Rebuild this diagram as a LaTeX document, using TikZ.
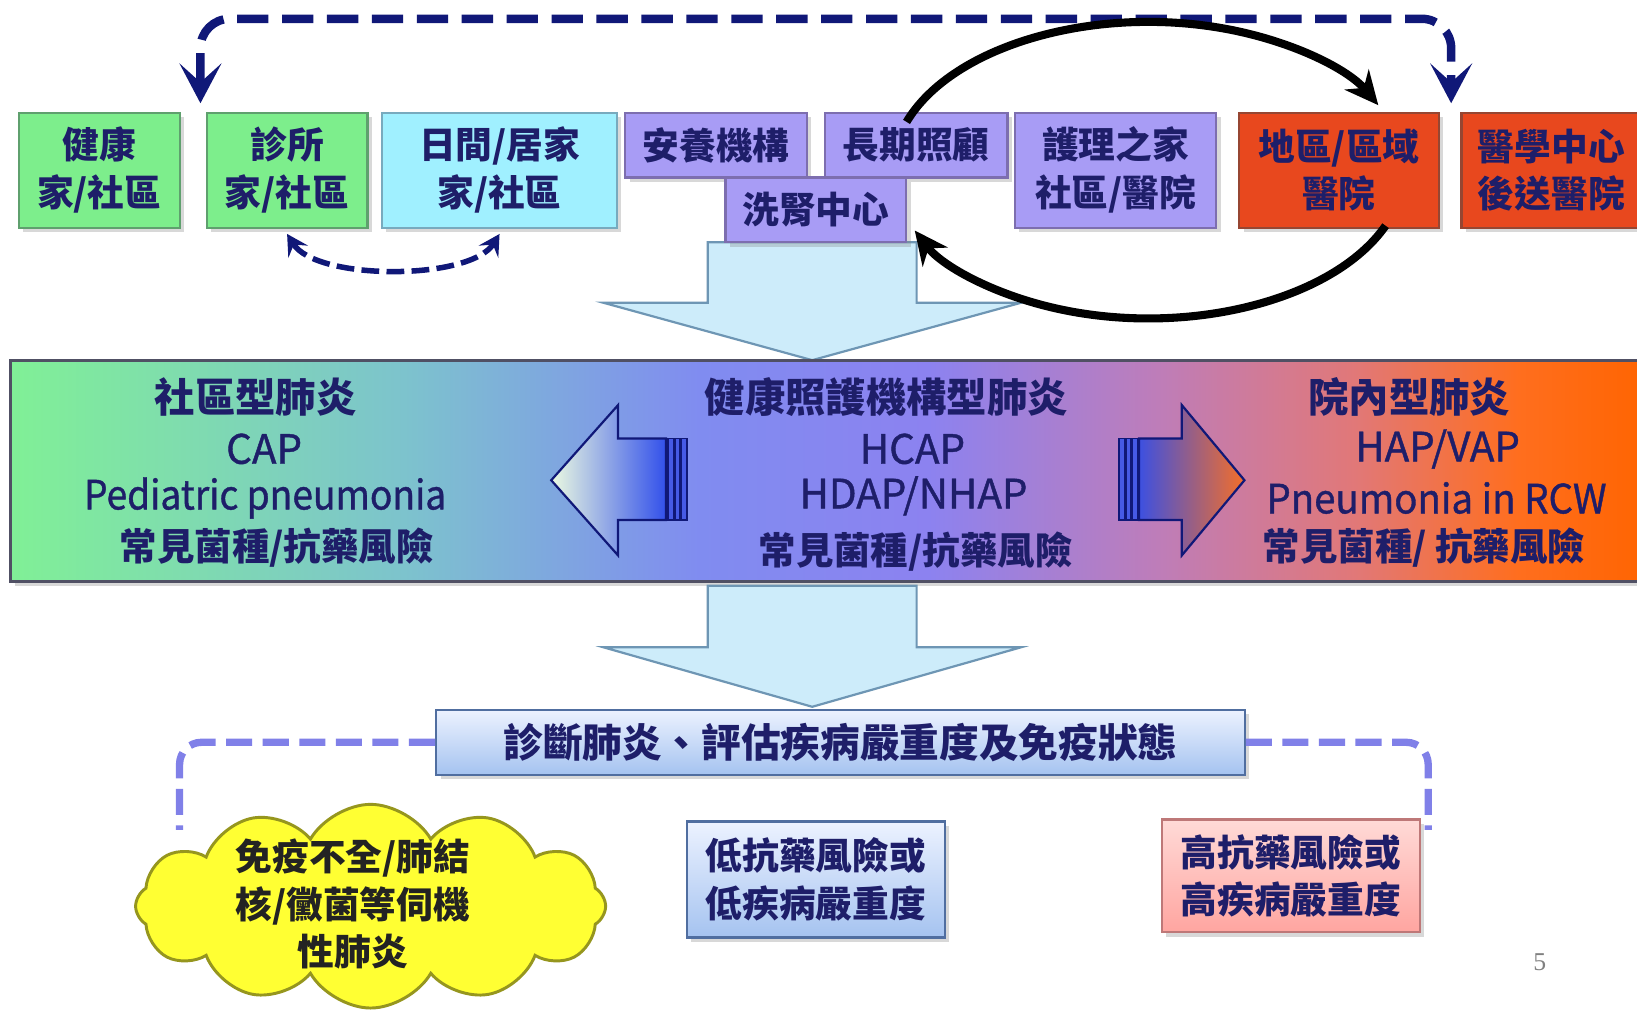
\documentclass[tikz,border=0pt]{standalone}
\usepackage{fontspec}
\setmainfont{Noto Sans CJK TC}
\newfontfamily\latmed{Noto Sans CJK TC}[FakeBold=1]
\newfontfamily\pgserif{Liberation Serif}
\usetikzlibrary{arrows.meta,shapes.symbols,shadows,calc}
\definecolor{navy}{RGB}{16,24,120}
\definecolor{txt}{RGB}{30,30,105}
\definecolor{gfill}{RGB}{125,238,140}
\definecolor{gline}{RGB}{95,160,110}
\definecolor{cfill}{RGB}{160,240,255}
\definecolor{cline}{RGB}{120,170,190}
\definecolor{pfill}{RGB}{168,156,245}
\definecolor{pline}{RGB}{125,110,175}
\definecolor{rfill}{RGB}{232,72,30}
\definecolor{rline}{RGB}{150,70,50}
\definecolor{afill}{RGB}{205,236,250}
\definecolor{aline}{RGB}{110,150,180}
\definecolor{lav}{RGB}{128,128,232}
\definecolor{bandline}{RGB}{80,80,100}
\definecolor{b0}{RGB}{128,240,150}
\definecolor{b1}{RGB}{125,195,205}
\definecolor{b2}{RGB}{128,140,240}
\definecolor{b3}{RGB}{140,130,240}
\definecolor{b4}{RGB}{190,125,185}
\definecolor{b5}{RGB}{225,120,120}
\definecolor{b6}{RGB}{255,110,30}
\definecolor{b7}{RGB}{255,100,0}
\definecolor{la0}{RGB}{235,250,225}
\definecolor{la1}{RGB}{50,80,235}
\definecolor{ra0}{RGB}{60,80,225}
\definecolor{ram}{RGB}{150,95,150}
\definecolor{ra1}{RGB}{245,110,40}
\definecolor{stripe}{RGB}{70,90,230}
\definecolor{dtop}{RGB}{236,242,255}
\definecolor{dbot}{RGB}{165,195,240}
\definecolor{dline}{RGB}{80,110,160}
\definecolor{htop}{RGB}{255,218,215}
\definecolor{hbot}{RGB}{255,165,160}
\definecolor{hline}{RGB}{190,120,120}
\definecolor{cloudfill}{RGB}{255,255,51}
\definecolor{cloudline}{RGB}{150,150,30}
\definecolor{cloudtxt}{RGB}{35,35,35}
\pgfdeclarehorizontalshading{bandshade}{100bp}{color(0bp)=(b0); color(25bp)=(b0); color(37bp)=(b1); color(46bp)=(b2); color(53bp)=(b3); color(60bp)=(b4); color(66bp)=(b5); color(71bp)=(b6); color(75bp)=(b7); color(100bp)=(b7)}
\newcommand\fsTop{\fontsize{10}{13}\selectfont\bfseries}
\newcommand\fsTit{\fontsize{11}{13}\selectfont\bfseries}
\newcommand\fsLat{\latmed\fontsize{11}{13}\selectfont}
\newcommand\fsCom{\fontsize{10.2}{13}\selectfont\bfseries}
\begin{document}
\begin{tikzpicture}[x=0.01cm,y=-0.01cm,
  shd/.style={drop shadow={opacity=0.3,shadow xshift=1.2pt,shadow yshift=-1.2pt}},
  tbox/.style={draw=#1, line width=0.6pt, inner sep=0pt, align=center, text=txt, font=\fsTop, shd},
  bt/.style={inner sep=0pt, text=txt},
  blockarrow/.style={draw=aline, fill=afill, line width=0.6pt},
  bandarrow/.style={draw=navy, line width=0.6pt},
  stripebar/.style={draw=navy, fill=stripe, line width=0.4pt},
  topdash/.style={draw=navy, line width=2.3pt, dash pattern=on 0.3cm off 0.13cm, rounded corners=8},
  smalldash/.style={draw=navy, line width=1.5pt, dash pattern=on 0.17cm off 0.07cm},
  lavdash/.style={draw=lav, line width=2pt, dash pattern=on 0.25cm off 0.1cm, rounded corners=6},
  cyc/.style={draw=black, line width=2.2pt, -{Stealth[length=0.32cm,width=0.3cm]}},
  bigtip/.tip={Stealth[length=0.38cm,width=0.4cm,inset=0.18cm]},
  smalltip/.tip={Stealth[length=0.2cm,width=0.22cm,inset=0.08cm]}
]
\useasboundingbox (0,0) rectangle (1568,970);
\clip (0,0) rectangle (1568,970);
\fill[white] (0,0) rectangle (1568,970);

% first big down arrow
\path[blockarrow] (678,232) -- (878,232) -- (878,290) -- (978,290) -- (778,345) -- (578,290) -- (678,290) -- cycle;

% top boxes
\node[tbox=gline, fill=gfill, minimum width=1.54cm, minimum height=1.10cm] (hk) at (95,163) {健康\\家/社區};
\node[tbox=gline, fill=gfill, minimum width=1.54cm, minimum height=1.10cm] (zs) at (275,163) {診所\\家/社區};
\node[tbox=cline, fill=cfill, minimum width=2.25cm, minimum height=1.10cm] (rj) at (478.5,163) {日間/居家\\家/社區};
\node[tbox=pline, fill=pfill, minimum width=1.74cm, minimum height=0.62cm] (ay) at (686,139) {安養機構};
\node[tbox=pline, fill=pfill, minimum width=1.75cm, minimum height=0.62cm] (cq) at (877.5,139) {長期照顧};
\node[tbox=pline, fill=pfill, minimum width=1.73cm, minimum height=0.62cm] (xs) at (781.5,201) {洗腎中心};
\node[tbox=pline, fill=pfill, minimum width=1.93cm, minimum height=1.10cm] (hl) at (1068.5,163) {護理之家\\社區/醫院};
\node[tbox=rline, fill=rfill, minimum width=1.91cm, minimum height=1.10cm] (dq) at (1282.5,163) {地區/區域\\醫院};
\node[tbox=rline, fill=rfill, minimum width=1.72cm, minimum height=1.10cm] (yx) at (1486,163) {醫學中心\\後送醫院};

% top dashed connector
\coordinate (tl) at ($(hk.north east)!.5!(zs.north west)+(7,-8)$);
\coordinate (tr) at ($(dq.north east)!.5!(yx.north west)+(1,-8)$);
\coordinate (tm) at (790,18);
\draw[topdash, {bigtip}-{bigtip}] (tl) |- (tm) -| (tr);

% small curved dashed connector
\draw[smalldash, {smalltip}-{smalltip}] ([yshift=-0.05cm]zs.south) .. controls +(28,45) and +(-28,45) .. ([yshift=-0.05cm]rj.south);

% band
\path[shade, shading=bandshade, draw=bandline, line width=0.8pt, shd] (10,345) rectangle (1580,557);

% band arrows
\path[bandarrow, left color=la0, right color=la1] (528,460) -- (592,388) -- (592,420) -- (638,420) -- (638,498) -- (592,498) -- (592,532) -- cycle;
\path[stripebar] (640,420) rectangle (645,498);
\path[stripebar] (646.5,420) rectangle (651.5,498);
\path[stripebar] (653,420) rectangle (658,498);
\path[bandarrow, left color=ra0, middle color=ram, right color=ra1] (1091,420) -- (1132,420) -- (1132,388) -- (1192,460) -- (1132,532) -- (1132,498) -- (1091,498) -- cycle;
\path[stripebar] (1072,420) rectangle (1077,498);
\path[stripebar] (1078.5,420) rectangle (1083.5,498);
\path[stripebar] (1085,420) rectangle (1090,498);

% band texts
\node[bt, font=\fsTit] (l1) at (245,380) {社區型肺炎};
\node[bt, font=\fsLat] (l2) at (253,430) {CAP};
\node[bt, font=\fsLat] (l3) at (254,477) {\scalebox{0.92}[1]{Pediatric pneumonia}};
\node[bt, font=\fsCom] (l4) at (265,525) {常見菌種/抗藥風險};
\node[bt, font=\fsTit] (m1) at (849,380) {健康照護機構型肺炎};
\node[bt, font=\fsLat] (m2) at (874,430) {HCAP};
\node[bt, font=\fsLat] (m3) at (875,475) {HDAP/NHAP};
\node[bt, font=\fsCom] (m4) at (877,528) {常見菌種/抗藥風險};
\node[bt, font=\fsTit] (r1) at (1350,380) {院內型肺炎};
\node[bt, font=\fsLat] (r2) at (1377,430) {HAP/VAP};
\node[bt, font=\fsLat] (r3) at (1376,477) {\scalebox{0.95}[1]{Pneumonia in RCW}};
\node[bt, font=\fsCom] (r4) at (1364,525) {常見菌種/ 抗藥風險};

% second big down arrow
\path[blockarrow] (678,561) -- (878,561) -- (878,620) -- (978,620) -- (778,677) -- (578,620) -- (678,620) -- cycle;

% diagnosis box
\node[draw=dline, line width=0.6pt, top color=dtop, bottom color=dbot, minimum width=7.74cm, minimum height=0.62cm, inner sep=0pt, text=txt, font=\fontsize{10.8}{13}\selectfont\bfseries, shd] (dg) at (805,711) {診斷肺炎、評估疾病嚴重度及免疫狀態};

% lower boxes
\node[draw=dline, line width=0.6pt, top color=dtop, bottom color=dbot, minimum width=2.47cm, minimum height=1.11cm, inner sep=0pt, align=center, text=txt, font=\fsTop, shd] (lo) at (781.5,842.5) {低抗藥風險或\\低疾病嚴重度};
\node[draw=hline, line width=0.6pt, top color=htop, bottom color=hbot, minimum width=2.47cm, minimum height=1.08cm, inner sep=0pt, align=center, text=txt, font=\fsTop, shd] (hi) at (1236.5,839) {高抗藥風險或\\高疾病嚴重度};

% cloud
\node[cloud, cloud puffs=12, cloud puff arc=120, aspect=2.3, draw=cloudline, fill=cloudfill, line width=0.8pt, minimum width=4.5cm, minimum height=1.95cm, inner sep=0pt] (cl) at (355,868) {};
\node[bt, align=center, text=cloudtxt, font=\fsTop] (clt) at ([xshift=-0.17cm,yshift=0.02cm]cl.center) {免疫不全/肺結\\核/黴菌等伺機\\性肺炎};

% lavender dashed connectors
\coordinate (lc) at (172,795);
\coordinate (rc) at (1368,795);
\draw[lavdash] (dg.west) -| (lc);
\draw[lavdash] (dg.east) -| (rc);

% black cycle arrows
\coordinate (ec) at (1100,163);
\draw[cyc] (ec) ++(-161:245 and 142) arc[start angle=-161, end angle=-26, x radius=245, y radius=142];
\draw[cyc] (ec) ++(22:245 and 142) arc[start angle=22, end angle=156, x radius=245, y radius=142];

% page number
\node[text=gray, font=\pgserif\fontsize{7}{8}\selectfont] (pg) at (1475,922) {5};
\end{tikzpicture}
\end{document}
